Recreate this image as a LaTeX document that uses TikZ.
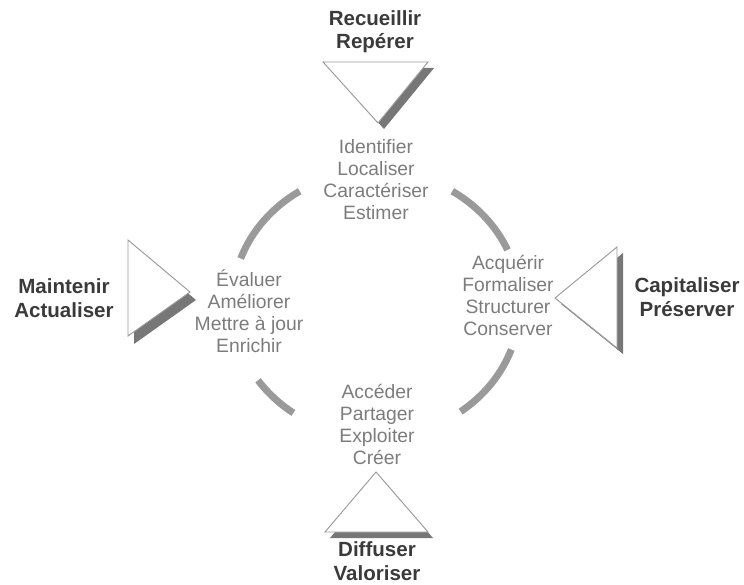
\documentclass[tikz,border=0pt]{standalone}
\usepackage{fontspec}
\setmainfont{Liberation Sans}
\usetikzlibrary{positioning}

\definecolor{titlegray}{HTML}{3A3A3A}
\definecolor{wordgray}{HTML}{7C7C7C}
\definecolor{ringgray}{HTML}{9A9A9A}
\definecolor{edgegray}{HTML}{9A9A9A}
\definecolor{shadowgray}{HTML}{777777}

\begin{document}
\begin{tikzpicture}[x=0.75pt, y=0.75pt, align=center,
   title/.style={text=titlegray, font=\fontsize{15.4}{17.5}\selectfont\bfseries},
   words/.style={text=wordgray, font=\fontsize{14.5}{16.5}\selectfont},
   ring/.style={draw=ringgray, line width=5.25pt},
   shadow/.style={fill=shadowgray},
   tri/.style={draw=edgegray, fill=white, line width=0.7pt, line join=miter}]

   \useasboundingbox (0,0) rectangle (744,-585);

   \coordinate (c) at (376,-304);

   % arcs of the cycle
   \draw[ring] (c) ++(122:144 and 133) arc[start angle=122, end angle=160, x radius=144, y radius=133];
   \draw[ring] (c) ++(24:144 and 133) arc[start angle=24, end angle=58, x radius=144, y radius=133];
   \draw[ring] (c) ++(215:144 and 133) arc[start angle=215, end angle=235, x radius=144, y radius=133];
   \draw[ring] (c) ++(306:144 and 133) arc[start angle=306, end angle=340, x radius=144, y radius=133];

   % triangles with their shadows
   \fill[shadow] (329,-68) -- (434,-68) -- (384,-129) -- cycle;
   \draw[tri] (323,-62) -- (428,-62) -- (378,-123) -- cycle;

   \fill[shadow] (134,-248) -- (196,-300) -- (134,-344) -- cycle;
   \draw[tri] (128,-240) -- (190,-292) -- (128,-336) -- cycle;

   \fill[shadow] (561,-304) -- (623,-253) -- (623,-354) -- cycle;
   \draw[tri] (555,-298) -- (617,-247) -- (617,-348) -- cycle;

   \fill[shadow] (381,-478) -- (330,-538) -- (433,-538) -- cycle;
   \draw[tri] (376,-472) -- (325,-532) -- (428,-532) -- cycle;

   % titles
   \node[title] (recueillir) at (375,-32) {Recueillir\\Repérer};
   \node[title] (maintenir) at (64,-298) {Maintenir\\Actualiser};
   \node[title] (capitaliser) at (687,-297) {Capitaliser\\Préserver};
   \node[title] (diffuser) at (377,-561) {Diffuser\\Valoriser};

   % actions
   \node[words] (identifier) at (376,-180) {Identifier\\Localiser\\Caractériser\\Estimer};
   \node[words] (evaluer) at (249,-311) {Évaluer\\Améliorer\\Mettre à jour\\Enrichir};
   \node[words] (acquerir) at (508,-295) {Acquérir\\Formaliser\\Structurer\\Conserver};
   \node[words] (acceder) at (377,-424) {Accéder\\Partager\\Exploiter\\Créer};

\end{tikzpicture}
\end{document}
